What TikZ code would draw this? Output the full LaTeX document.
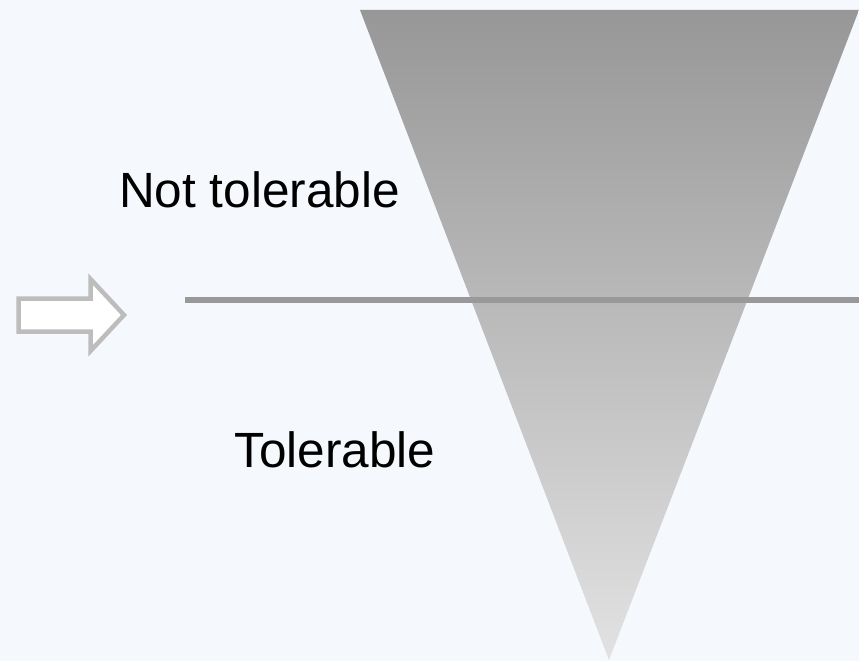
\documentclass[tikz,border=0pt]{standalone}
\usepackage{fontspec}
\setmainfont{Liberation Sans}
\usetikzlibrary{positioning}
\definecolor{bgblue}{HTML}{F5F8FD}
\definecolor{shadetop}{HTML}{979797}
\definecolor{shadebot}{HTML}{E2E2E2}
\definecolor{limitgray}{HTML}{999999}
\definecolor{arrowgray}{HTML}{BDBDBD}

\begin{document}
\begin{tikzpicture}[x=1pt, y=-1pt,
    zone/.style={anchor=base west, inner sep=0pt, font=\fontsize{49.5}{59}\selectfont},
    limit/.style={draw=limitgray, line width=6pt},
    hollow/.style={draw=arrowgray, fill=white, line width=4.5pt, line join=miter}]
    \useasboundingbox[fill=bgblue] (0,0) rectangle (859,661);
    % funnel
    \shade[top color=shadetop, bottom color=shadebot] (360,10) -- (859,10) -- (609,660) -- cycle;
    % limit line
    \coordinate (lineL) at (185,300);
    \coordinate (lineR) at (859,300);
    \draw[limit] (lineL) -- (lineR);
    % pointer
    \draw[hollow] (18.5,298.5) -- (90.5,298.5) -- (90.5,279) -- (124,315) -- (90.5,351) -- (90.5,331.5) -- (18.5,331.5) -- cycle;
    \node[zone] (nottol) at (119,207) {Not tolerable};
    \node[zone] (tol) at (234,467) {Tolerable};
\end{tikzpicture}
\end{document}
